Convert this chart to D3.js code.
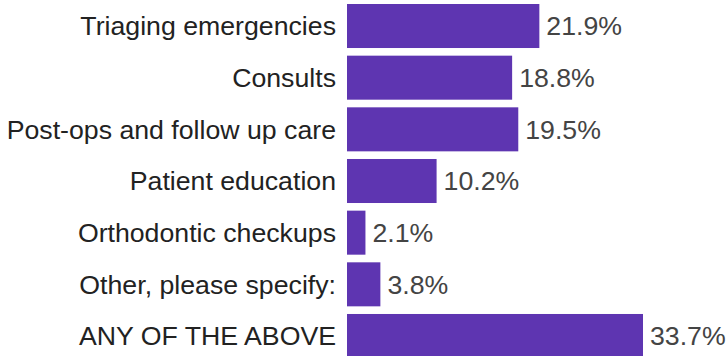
<!DOCTYPE html>
<html><head><meta charset="utf-8">
<script src="https://cdn.jsdelivr.net/npm/d3@7"></script>
<style>html,body{margin:0;padding:0;background:#fff;}svg{display:block;}</style>
</head><body>
<svg id="c" width="727" height="356"></svg>
<script>
const categories = ["Triaging emergencies","Consults","Post-ops and follow up care","Patient education","Orthodontic checkups","Other, please specify:","ANY OF THE ABOVE"];
const values = [21.9,18.8,19.5,10.2,2.1,3.8,33.7];
const valueLabels = ["21.9%","18.8%","19.5%","10.2%","2.1%","3.8%","33.7%"];

const svg = d3.select("#c");
const x0 = 347;
const x = d3.scaleLinear().domain([0, 33.7]).range([x0, 643]);
const y = d3.scaleBand().domain(categories).range([4, 358]).paddingInner(0.148).paddingOuter(0);
const fs = 26.7;

svg.selectAll("rect.bar").data(categories).join("rect")
  .attr("class","bar")
  .attr("x", x0)
  .attr("y", d => y(d))
  .attr("width", (d,i) => x(values[i]) - x0)
  .attr("height", y.bandwidth())
  .attr("fill", "#5e35b1");

svg.selectAll("text.cat").data(categories).join("text")
  .attr("class","cat")
  .attr("x", x0 - 11)
  .attr("y", d => y(d) + y.bandwidth()/2)
  .attr("dy", "0.35em")
  .attr("text-anchor","end")
  .attr("font-family","'Liberation Sans', Arial, sans-serif")
  .attr("font-size", fs)
  .attr("fill","#222")
  .text(d => d);

svg.selectAll("text.val").data(categories).join("text")
  .attr("class","val")
  .attr("x", (d,i) => x(values[i]) + 7)
  .attr("y", d => y(d) + y.bandwidth()/2)
  .attr("dy", "0.35em")
  .attr("font-family","'Liberation Sans', Arial, sans-serif")
  .attr("font-size", fs)
  .attr("fill","#444")
  .text((d,i) => valueLabels[i]);
</script>
</body></html>
